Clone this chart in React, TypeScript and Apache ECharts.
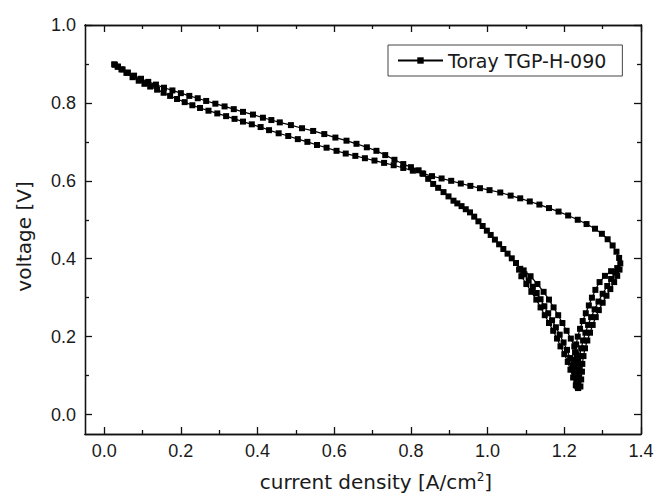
import React, { useEffect, useRef } from "react";
import * as echarts from "echarts";

// current density [A/cm2], voltage [V] pairs, in sweep order
const sweepLow: number[][] = [
  [0.026, 0.899], [0.035, 0.893], [0.045, 0.886], [0.058, 0.877], [0.074, 0.866],
  [0.09, 0.857], [0.105, 0.849], [0.12, 0.842], [0.138, 0.834], [0.155, 0.826],
  [0.172, 0.818], [0.19, 0.81], [0.21, 0.802], [0.23, 0.794], [0.25, 0.787],
  [0.272, 0.78], [0.295, 0.773], [0.318, 0.766], [0.34, 0.759], [0.362, 0.752],
  [0.385, 0.745], [0.408, 0.738], [0.43, 0.73], [0.455, 0.722], [0.48, 0.715],
  [0.505, 0.707], [0.53, 0.7], [0.555, 0.692], [0.58, 0.685], [0.606, 0.677],
  [0.63, 0.67], [0.655, 0.664], [0.68, 0.658], [0.705, 0.652], [0.73, 0.646],
  [0.755, 0.64], [0.78, 0.633], [0.805, 0.626], [0.83, 0.619], [0.855, 0.612],
];
const sweepUpperRight: number[][] = [
  [0.88, 0.606], [0.905, 0.6], [0.93, 0.593], [0.955, 0.587], [0.98, 0.581],
  [1.005, 0.576], [1.033, 0.57], [1.06, 0.562], [1.085, 0.555], [1.11, 0.547],
  [1.135, 0.539], [1.16, 0.53], [1.185, 0.521], [1.21, 0.511], [1.235, 0.5],
  [1.258, 0.489], [1.28, 0.477], [1.298, 0.464], [1.313, 0.45], [1.326, 0.434],
  [1.336, 0.418], [1.343, 0.402], [1.346, 0.388],
];
const noseDown: number[][] = [
  [1.344, 0.372], [1.338, 0.356], [1.33, 0.34], [1.32, 0.322], [1.31, 0.305],
  [1.3, 0.287], [1.29, 0.268], [1.282, 0.25], [1.274, 0.23], [1.267, 0.21],
  [1.26, 0.19], [1.254, 0.17], [1.25, 0.15], [1.247, 0.13], [1.246, 0.11],
  [1.244, 0.09], [1.242, 0.072], [1.236, 0.068],
];
const rightArmUp: number[][] = [
  [1.232, 0.08], [1.228, 0.1], [1.226, 0.12], [1.226, 0.14], [1.228, 0.16],
  [1.231, 0.18], [1.235, 0.2], [1.241, 0.22], [1.248, 0.24], [1.256, 0.26],
  [1.264, 0.28], [1.272, 0.3], [1.281, 0.32], [1.292, 0.34], [1.306, 0.356],
  [1.322, 0.368], [1.338, 0.376],
];
const rightArmDown: number[][] = [
  [1.333, 0.364], [1.322, 0.348], [1.312, 0.33], [1.3, 0.31], [1.289, 0.29],
  [1.279, 0.27], [1.27, 0.25], [1.262, 0.23], [1.255, 0.21], [1.249, 0.19],
  [1.244, 0.17], [1.24, 0.15], [1.238, 0.13], [1.237, 0.11], [1.236, 0.09],
  [1.234, 0.072],
];
const leftArmUp: number[][] = [
  [1.236, 0.075], [1.238, 0.095], [1.238, 0.115], [1.236, 0.135], [1.232, 0.155],
  [1.226, 0.175], [1.217, 0.195], [1.206, 0.215], [1.195, 0.235], [1.184, 0.255],
  [1.172, 0.275], [1.16, 0.295], [1.146, 0.315], [1.13, 0.335], [1.112, 0.355],
  [1.094, 0.37],
];
const leftArmDown: number[][] = [
  [1.082, 0.372], [1.088, 0.355], [1.101, 0.335], [1.114, 0.315], [1.127, 0.295],
  [1.138, 0.275], [1.149, 0.255], [1.16, 0.235], [1.171, 0.215], [1.181, 0.195],
  [1.19, 0.175], [1.2, 0.155], [1.209, 0.135], [1.216, 0.115], [1.223, 0.095],
  [1.23, 0.075],
];
const diveUp: number[][] = [
  [1.236, 0.068], [1.232, 0.085], [1.228, 0.105], [1.222, 0.125], [1.215, 0.145],
  [1.207, 0.166], [1.198, 0.185], [1.188, 0.205], [1.178, 0.224], [1.168, 0.242],
  [1.158, 0.26], [1.148, 0.278], [1.138, 0.296], [1.128, 0.312], [1.118, 0.328],
  [1.107, 0.344], [1.096, 0.36], [1.085, 0.374], [1.074, 0.389], [1.063, 0.401],
  [1.052, 0.413], [1.041, 0.425], [1.03, 0.437], [1.019, 0.449], [1.008, 0.461],
  [0.998, 0.472], [0.987, 0.484], [0.976, 0.496], [0.965, 0.508], [0.954, 0.519],
  [0.943, 0.527], [0.932, 0.535], [0.921, 0.542], [0.911, 0.549], [0.898, 0.56],
  [0.885, 0.571], [0.871, 0.582], [0.858, 0.592], [0.845, 0.605], [0.832, 0.618],
];
const upperLeft: number[][] = [
  [0.82, 0.627], [0.8, 0.635], [0.78, 0.643], [0.757, 0.654], [0.733, 0.666],
  [0.71, 0.677], [0.685, 0.686], [0.658, 0.695], [0.632, 0.703], [0.603, 0.711],
  [0.574, 0.72], [0.545, 0.728], [0.516, 0.735], [0.487, 0.743], [0.458, 0.75],
  [0.436, 0.756], [0.414, 0.762], [0.388, 0.77], [0.362, 0.777], [0.338, 0.784],
  [0.314, 0.791], [0.29, 0.798], [0.266, 0.805], [0.244, 0.812], [0.222, 0.818],
  [0.2, 0.825], [0.178, 0.832], [0.156, 0.839], [0.135, 0.847], [0.115, 0.854],
  [0.096, 0.862], [0.078, 0.87], [0.062, 0.878], [0.048, 0.886], [0.036, 0.893],
  [0.028, 0.898],
];

const seriesName = "Toray TGP-H-090";
const xMajor = [0, 0.2, 0.4, 0.6, 0.8, 1.0, 1.2, 1.4];
const xMinor = [0.1, 0.3, 0.5, 0.7, 0.9, 1.1, 1.3];
const yMajor = [0, 0.2, 0.4, 0.6, 0.8, 1.0];
const yMinor = [0.1, 0.3, 0.5, 0.7, 0.9];

const FONT = "'Liberation Sans', Arial, Helvetica, sans-serif";
const WIDE = "'DejaVu Sans', Arial, sans-serif";
const TXT = "#1a1a1a";

export default function App() {
  const ref = useRef<HTMLDivElement>(null);
  useEffect(() => {
    if (!ref.current) return;
    const chart = echarts.init(ref.current, null, { renderer: "svg" });
    const data = [
      ...sweepLow, ...sweepUpperRight, ...noseDown, ...rightArmUp, ...rightArmDown,
      ...leftArmUp, ...leftArmDown, ...diveUp, ...upperLeft,
    ];
    const lineC = { color: "#111", width: 1.3 };
    const mkX = (pos: string, vals: number[], len: number, labels: boolean, extra: any = {}) => ({
      type: "value", position: pos, min: -0.05, max: 1.4,
      axisLine: { show: true, onZero: false, lineStyle: lineC },
      axisTick: { show: true, inside: true, length: len, customValues: vals, lineStyle: lineC },
      axisLabel: labels
        ? { show: true, customValues: vals, color: TXT, fontSize: 18, fontFamily: FONT, margin: 8,
            formatter: (v: number) => v.toFixed(1) }
        : { show: false },
      splitLine: { show: false },
      ...extra,
    });
    const mkY = (pos: string, vals: number[], len: number, labels: boolean, extra: any = {}) => ({
      type: "value", position: pos, min: -0.05, max: 1.0,
      axisLine: { show: true, onZero: false, lineStyle: lineC },
      axisTick: { show: true, inside: true, length: len, customValues: vals, lineStyle: lineC },
      axisLabel: labels
        ? { show: true, customValues: vals, color: TXT, fontSize: 18, fontFamily: FONT, margin: 9,
            formatter: (v: number) => v.toFixed(1) }
        : { show: false },
      splitLine: { show: false },
      ...extra,
    });
    chart.setOption({
      animation: false,
      backgroundColor: "#fff",
      grid: { left: 85, right: 16, top: 25, bottom: 68, containLabel: false },
      xAxis: [
        mkX("bottom", xMajor, 7, true, {
          name: "{a|current density [A/cm}{s|2}{a|]}",
          nameLocation: "middle",
          nameGap: 37,
          nameTextStyle: {
            padding: [0, 0, 0, 26],
            rich: {
              a: { fontSize: 20, fontFamily: WIDE, color: TXT },
              s: { fontSize: 12, fontFamily: WIDE, color: TXT, verticalAlign: "bottom", padding: [0, 0, 10, 0] },
            },
          },
        }),
        mkX("bottom", xMinor, 4, false),
        mkX("top", xMajor, 7, false),
        mkX("top", xMinor, 4, false),
      ],
      yAxis: [
        mkY("left", yMajor, 7, true, {
          name: "voltage [V]",
          nameLocation: "middle",
          nameGap: 51,
          nameTextStyle: { fontSize: 20, fontFamily: WIDE, color: TXT, padding: [0, 14, 0, 0] },
        }),
        mkY("left", yMinor, 4, false),
        mkY("right", yMajor, 7, false),
        mkY("right", yMinor, 4, false),
      ],
      legend: {
        show: true,
        data: [seriesName],
        left: 388,
        top: 45,
        orient: "horizontal",
        itemWidth: 45,
        itemHeight: 8,
        itemGap: 8,
        padding: [6, 16, 6, 9],
        borderColor: "#444",
        borderWidth: 1,
        backgroundColor: "#fff",
        textStyle: { fontSize: 19, fontFamily: WIDE, color: TXT },
      },
      series: [
        {
          name: seriesName,
          type: "line",
          xAxisIndex: 0,
          yAxisIndex: 0,
          data,
          symbol: "rect",
          symbolSize: 6,
          showAllSymbol: true,
          lineStyle: { color: "#000", width: 1.2 },
          itemStyle: { color: "#000" },
          z: 3,
        },
      ],
    });
    return () => chart.dispose();
  }, []);
  return (
    <div
      ref={ref}
      style={{ position: "fixed", left: 0, top: 0, width: 657, height: 502, background: "#fff" }}
    />
  );
}
